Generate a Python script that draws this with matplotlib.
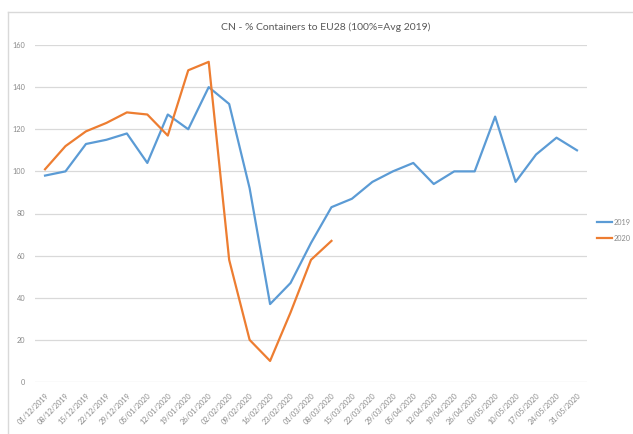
import matplotlib
matplotlib.use("Agg")
import matplotlib.pyplot as plt
from matplotlib.lines import Line2D

dates = ["01/12/2019", "08/12/2019", "15/12/2019", "22/12/2019", "29/12/2019",
         "05/01/2020", "12/01/2020", "19/01/2020", "26/01/2020", "02/02/2020",
         "09/02/2020", "16/02/2020", "23/02/2020", "01/03/2020", "08/03/2020",
         "15/03/2020", "22/03/2020", "29/03/2020", "05/04/2020", "12/04/2020",
         "19/04/2020", "26/04/2020", "03/05/2020", "10/05/2020", "17/05/2020",
         "24/05/2020", "31/05/2020"]
values_2019 = [98, 100, 113, 115, 118, 104, 127, 120, 140, 132, 92, 37, 47, 66, 83,
               87, 95, 100, 104, 94, 100, 100, 126, 95, 108, 116, 110]
values_2020 = [101, 112, 119, 123, 128, 127, 117, 148, 152, 58, 20, 10, 33, 58, 67]
yticks = [0, 20, 40, 60, 80, 100, 120, 140, 160]
title = "CN - % Containers to EU28 (100%=Avg 2019)"

plt.rcParams['font.family'] = ['Lato', 'DejaVu Sans']
fig = plt.figure(figsize=(6.33, 4.34), dpi=100)
ax = fig.add_axes([34.8 / 633, 52 / 434, (587.2 - 34.8) / 633, 337 / 434])

x19 = list(range(len(values_2019)))
x20 = list(range(len(values_2020)))
l1, = ax.plot(x19, values_2019, color="#5B9BD5", lw=1.6, label="2019", solid_joinstyle="round")
l2, = ax.plot(x20, values_2020, color="#ED7D31", lw=1.6, label="2020", solid_joinstyle="round")

ax.set_xlim(-0.5, len(dates) - 0.5)
ax.set_ylim(0, 160)
ax.set_yticks(yticks)
ax.set_yticklabels([str(v) for v in yticks])
ax.set_xticks(x19)
ax.set_xticklabels(dates, rotation=45, ha="right", rotation_mode="anchor")
ax.tick_params(axis="x", length=0, pad=7, labelsize=5.3, labelcolor="#8a8a8a")
ax.tick_params(axis="y", length=0, pad=7, labelsize=5.3, labelcolor="#8a8a8a")
ax.grid(axis="y", color="#D9D9D9", lw=0.9)
ax.set_axisbelow(True)
for s in ax.spines.values():
    s.set_visible(False)

fig.text(326 / 633, 1 - 27 / 434, title, ha="center", va="center",
         fontsize=7.5, color="#595959")

# chart area border (Excel-style), partially cropped
fig.add_artist(Line2D([8 / 633, 8 / 633], [0, 1 - 12 / 434], transform=fig.transFigure,
                      color="#D9D9D9", lw=1.0))
fig.add_artist(Line2D([8 / 633, 1], [1 - 12 / 434, 1 - 12 / 434], transform=fig.transFigure,
                      color="#D9D9D9", lw=1.0))

leg = fig.legend(handles=[l1, l2], loc="upper left",
                 bbox_to_anchor=(597 / 633, 1 - 219 / 434), frameon=False,
                 fontsize=5.3, handlelength=2.0, handletextpad=0.3, labelspacing=1.2,
                 borderaxespad=0, borderpad=0)
for t in leg.get_texts():
    t.set_color("#8a8a8a")

fig.savefig("out.png", dpi=100)
